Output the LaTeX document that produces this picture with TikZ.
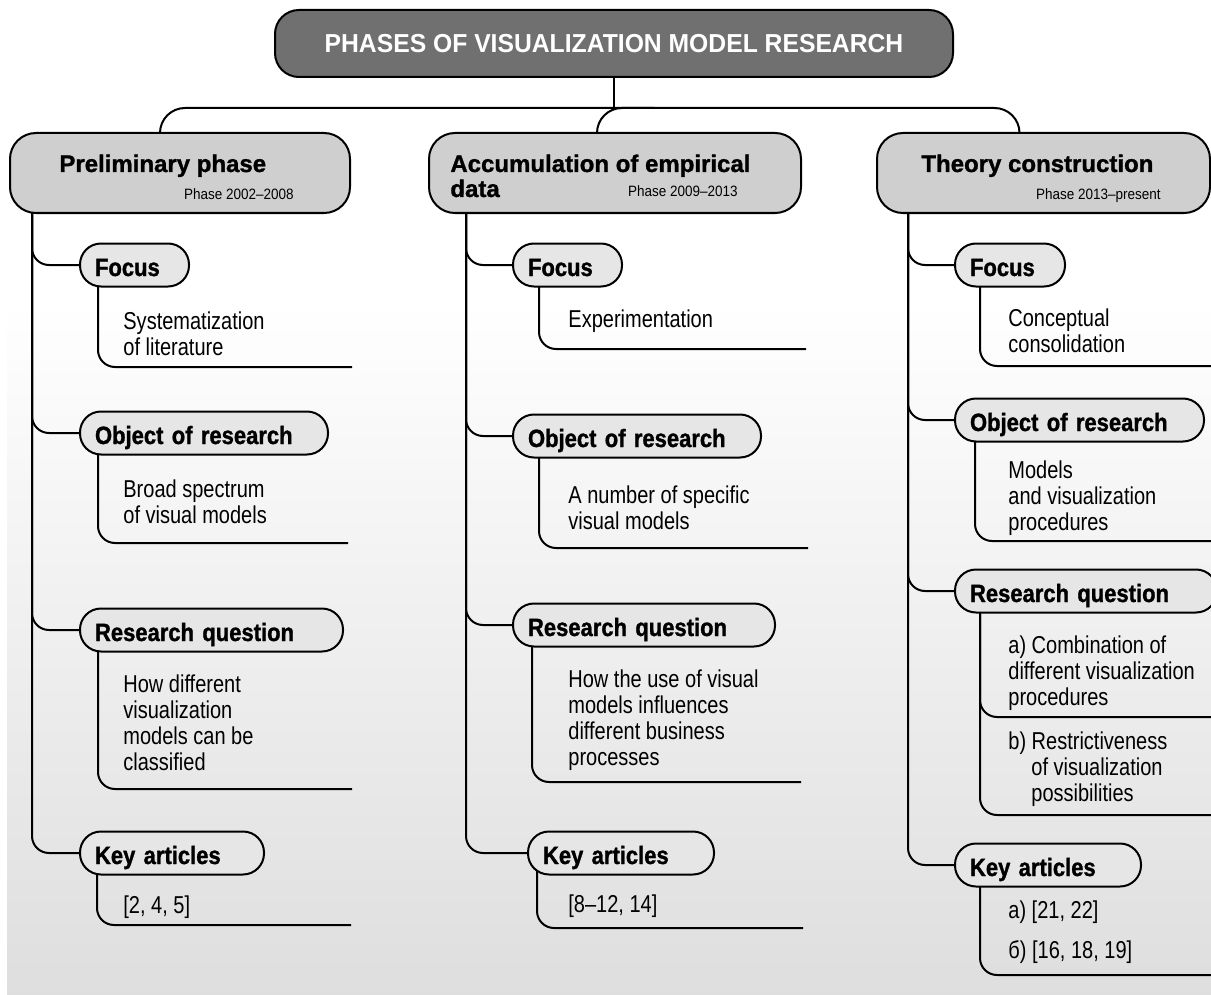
\documentclass[tikz,border=0pt]{standalone}
\usepackage{fontspec}
\setmainfont{Liberation Sans}[BoldFeatures={FakeBold=1.2}]
\newfontfamily\bodyfam{Liberation Sans}[FakeStretch=0.82]
\newfontfamily\pillfam{Liberation Sans}[FakeStretch=0.88, BoldFeatures={FakeBold=1.2}]
\newfontfamily\headfam{Liberation Sans}[FakeStretch=0.95]
\newfontfamily\datefam{Liberation Sans}[FakeStretch=0.9]
\usetikzlibrary{backgrounds}
\definecolor{cTITLE}{RGB}{112,112,112}
\definecolor{cPHASE}{RGB}{207,207,207}
\definecolor{cPILL}{RGB}{230,230,230}
\definecolor{cSHADE}{RGB}{222,222,222}
\tikzset{
  titlebox/.style={draw, line width=1pt, fill=cTITLE, rounded corners=12pt, minimum width=339pt, minimum height=33.5pt, inner sep=0pt, text=white, font=\headfam\bfseries\fontsize{13}{15}\selectfont},
  phasebox/.style={draw, line width=1pt, fill=cPHASE, rounded corners=13pt, minimum height=40pt, inner sep=0pt},
  phasename/.style={anchor=base west, inner sep=0pt, align=left, font=\bfseries\fontsize{12}{12.5}\selectfont},
  phasedate/.style={anchor=base east, inner sep=0pt, font=\datefam\fontsize{7.5}{9}\selectfont},
  pill/.style={draw, line width=1pt, fill=cPILL, rounded corners=10.5pt, minimum height=21.5pt, inner xsep=7.5pt, inner ysep=0pt, text height=13pt, text depth=2pt, anchor=west, align=left, text width=#1, font=\pillfam\bfseries\fontsize{12.5}{14}\selectfont},
  note/.style={anchor=base west, inner sep=0pt, align=left, font=\bodyfam\fontsize{12.2}{13}\selectfont},
  link/.style={line width=1pt, rounded corners=8.5pt},
  trunk/.style={line width=1pt, rounded corners=12.5pt},
}
\begin{document}
\begin{tikzpicture}[x=0.5pt,y=-0.5pt]
\useasboundingbox (0,0) rectangle (1211,995);
\node[titlebox] (title) at (614,43.5) {PHASES OF VISUALIZATION MODEL RESEARCH};
\coordinate (hub) at (614,108);
\node[phasebox, minimum width=170pt] (p1) at (180,173) {};
\node[phasebox, minimum width=186pt] (p2) at (615,173) {};
\node[phasebox, minimum width=166.5pt] (p3) at (1043.5,173) {};
\node[phasename] (n1) at (59,172) {Preliminary phase};
\node[phasedate] (d1) at (294,199) {Phase 2002–2008};
\node[phasename] (n2) at (450,197) {Accumulation of empirical\\data};
\node[phasedate] (d2) at (738,197) {Phase 2009–2013};
\node[phasename] (n3) at (921,172) {Theory construction};
\node[phasedate] (d3) at (1161,199) {Phase 2013–present};

\node[pill=39.5pt] (f1) at (79,265) {Focus};
\node[pill=109pt] (o1) at (79,433) {Object of research};
\node[pill=116.5pt] (r1) at (79,630) {Research question};
\node[pill=77pt] (k1) at (79,853) {Key articles};
\node[pill=39.5pt] (f2) at (512,265) {Focus};
\node[pill=109pt] (o2) at (512,436) {Object of research};
\node[pill=116pt] (r2) at (512,625) {Research question};
\node[pill=78pt] (k2) at (527,853) {Key articles};
\node[pill=40pt] (f3) at (954,265) {Focus};
\node[pill=109.5pt] (o3) at (954,420) {Object of research};
\node[pill=116pt] (r3) at (954,591) {Research question};
\node[pill=78pt] (k3) at (954,865) {Key articles};

\node[note] (t11) at (123,355) {Systematization\\of literature};
\node[note] (t12) at (123,523) {Broad spectrum\\of visual models};
\node[note] (t13) at (123,770) {How different\\visualization\\models can be\\classified};
\node[note] (t14) at (123,913) {[2, 4, 5]};
\node[note] (t21) at (568,327) {Experimentation};
\node[note] (t22) at (568,529) {A number of specific\\visual models};
\node[note] (t23) at (568,765) {How the use of visual\\models influences\\different business\\processes};
\node[note] (t24) at (568,912) {[8–12, 14]};
\node[note] (t31) at (1008,352) {Conceptual\\consolidation};
\node[note] (t32) at (1008,530) {Models\\and visualization\\procedures};
\node[note] (t33) at (1008,705) {a) Combination of\\different visualization\\procedures};
\node[note] (t34) at (1008,801) {b) Restrictiveness\\\hspace*{11.5pt}of visualization\\\hspace*{11.5pt}possibilities};
\node[note] (t35) at (1008,958) {a) [21, 22]\\[7pt]б) [16, 18, 19]};

\coordinate (e11) at (352,367);
\coordinate (e12) at (348,543);
\coordinate (e13) at (352,789);
\coordinate (e14) at (351,925);
\coordinate (e21) at (806,349);
\coordinate (e22) at (808,548);
\coordinate (e23) at (801,782);
\coordinate (e24) at (803,928);
\coordinate (e31) at (1211,366);
\coordinate (e32) at (1211,541);
\coordinate (e33) at (1211,717);
\coordinate (e34) at (1211,815);
\coordinate (e35) at (1211,975);

\begin{scope}[on background layer]
\fill[white] (0,0) rectangle (1211,995);
\shade[top color=white, bottom color=cSHADE] (7,300) rectangle (1211,995);
\draw[link] (title) -- (hub);
\draw[trunk] ([xshift=-10pt]p1.center) |- (hub) -| ([xshift=-12pt]p3.center);
\draw[trunk] ([xshift=-9pt]p2.center) |- ([xshift=20pt]hub);

\draw[link] ([xshift=11.5pt]p1.west) |- (k1.west);
\draw[link] ([xshift=11.5pt]p1.west) |- (f1.west);
\draw[link] ([xshift=11.5pt]p1.west) |- (o1.west);
\draw[link] ([xshift=11.5pt]p1.west) |- (r1.west);
\draw[link] ([xshift=19pt]p2.west) |- (k2.west);
\draw[link] ([xshift=19pt]p2.west) |- (f2.west);
\draw[link] ([xshift=19pt]p2.west) |- (o2.west);
\draw[link] ([xshift=19pt]p2.west) |- (r2.west);
\draw[link] ([xshift=16pt]p3.west) |- (k3.west);
\draw[link] ([xshift=16pt]p3.west) |- (f3.west);
\draw[link] ([xshift=16pt]p3.west) |- (o3.west);
\draw[link] ([xshift=16pt]p3.west) |- (r3.west);

\draw[link] ([xshift=9.5pt]f1.west) |- (e11);
\draw[link] ([xshift=9.5pt]o1.west) |- (e12);
\draw[link] ([xshift=9.5pt]r1.west) |- (e13);
\draw[link] ([xshift=9pt]k1.west) |- (e14);
\draw[link] ([xshift=13.5pt]f2.west) |- (e21);
\draw[link] ([xshift=13.5pt]o2.west) |- (e22);
\draw[link] ([xshift=10pt]r2.west) |- (e23);
\draw[link] ([xshift=5pt]k2.west) |- (e24);
\draw[link] ([xshift=13pt]f3.west) |- (e31);
\draw[link] ([xshift=10.5pt]o3.west) |- (e32);
\draw[link] ([xshift=13pt]r3.west) |- (e33);
\draw[link] ([xshift=13pt]r3.west) |- (e34);
\draw[link] ([xshift=13pt]k3.west) |- (e35);
\end{scope}
\end{tikzpicture}
\end{document}
